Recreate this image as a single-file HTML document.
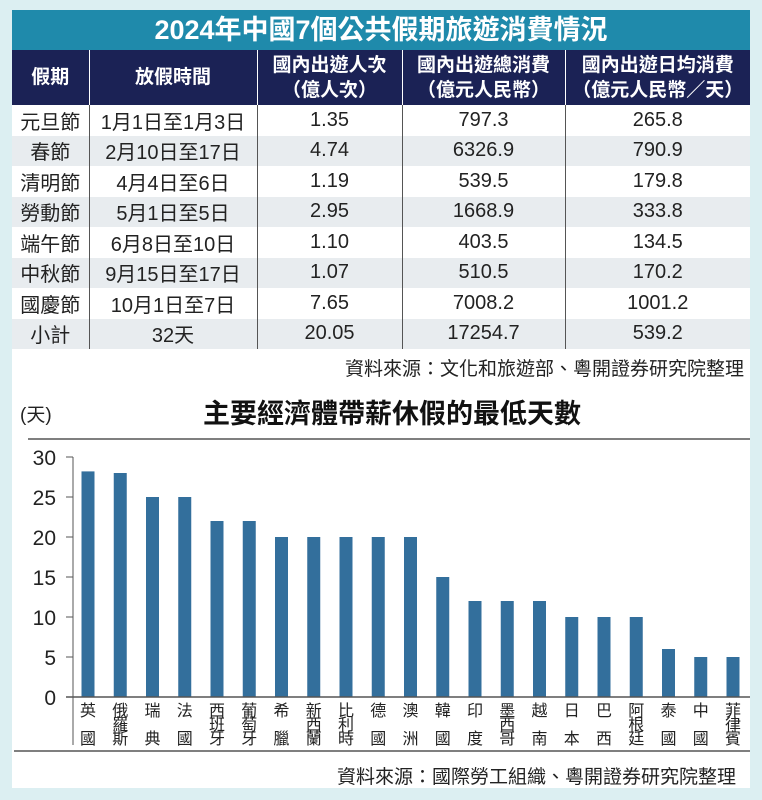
<!DOCTYPE html>
<html><head><meta charset="utf-8">
<style>
*{margin:0;padding:0;box-sizing:border-box}
body{width:762px;height:800px;background:#dceff2;font-family:"Liberation Sans","Noto Sans CJK TC",sans-serif;position:relative;overflow:hidden}
#panel{position:absolute;left:12px;top:10px;width:738px;height:778px;background:#fff}
#ttl{position:absolute;left:12px;top:10px;width:738px;height:40px;background:#1f8aab;color:#fff;font-size:27px;font-weight:bold;text-align:center;line-height:40px}
table{position:absolute;left:12px;top:50px;width:738px;border-collapse:collapse;font-size:20px;color:#222}
th{background:#1b2255;color:#fff;font-weight:bold;height:55px;font-size:19px;line-height:25px;border-left:1px solid #fff}
td{height:30.5px;text-align:center;border-left:1.5px solid #555}
tr.g td{background:#e8ecef}
th:first-child,td:first-child{border-left:none}
.src{position:absolute;right:18px;font-size:19px;color:#222}
</style></head><body>
<div id="panel"></div>
<div id="ttl">2024年中國7個公共假期旅遊消費情況</div>
<table>
<colgroup><col style="width:77px"><col style="width:168px"><col style="width:145px"><col style="width:163px"><col></colgroup>
<tr><th>假期</th><th>放假時間</th><th>國內出遊人次<br>（億人次）</th><th>國內出遊總消費<br>（億元人民幣）</th><th>國內出遊日均消費<br>（億元人民幣／天）</th></tr>
<tr><td>元旦節</td><td>1月1日至1月3日</td><td>1.35</td><td>797.3</td><td>265.8</td></tr>
<tr class="g"><td>春節</td><td>2月10日至17日</td><td>4.74</td><td>6326.9</td><td>790.9</td></tr>
<tr><td>清明節</td><td>4月4日至6日</td><td>1.19</td><td>539.5</td><td>179.8</td></tr>
<tr class="g"><td>勞動節</td><td>5月1日至5日</td><td>2.95</td><td>1668.9</td><td>333.8</td></tr>
<tr><td>端午節</td><td>6月8日至10日</td><td>1.10</td><td>403.5</td><td>134.5</td></tr>
<tr class="g"><td>中秋節</td><td>9月15日至17日</td><td>1.07</td><td>510.5</td><td>170.2</td></tr>
<tr><td>國慶節</td><td>10月1日至7日</td><td>7.65</td><td>7008.2</td><td>1001.2</td></tr>
<tr class="g"><td>小計</td><td>32天</td><td>20.05</td><td>17254.7</td><td>539.2</td></tr>
</table>
<div class="src" style="top:354px">資料來源：文化和旅遊部、粵開證券研究院整理</div>
<svg id="chart" width="762" height="800" style="position:absolute;left:0;top:0"></svg>
<div class="src" style="top:762px;right:26px">資料來源：國際勞工組織、粵開證券研究院整理</div>
<script>
const categories=["英國","俄羅斯","瑞典","法國","西班牙","葡萄牙","希臘","新西蘭","比利時","德國","澳洲","韓國","印度","墨西哥","越南","日本","巴西","阿根廷","泰國","中國","菲律賓"];
const values=[28.2,28,25,25,22,22,20,20,20,20,20,15,12,12,12,10,10,10,6,5,5];
const ticks=[0,5,10,15,20,25,30];
const NS="http://www.w3.org/2000/svg";
const svg=document.getElementById('chart');
const x0=88,dx=32.25,y0=697,ppu=8,bw=13;
const yS=v=>y0-v*ppu, xS=i=>x0+i*dx;
function mk(t,a){const e=document.createElementNS(NS,t);for(const k in a)e.setAttribute(k,a[k]);svg.appendChild(e);return e;}
let e;
e=mk('text',{x:20,y:421,'font-size':19,fill:'#222'});e.textContent='(天)';


e=mk('text',{x:392,y:423,'font-size':27,'text-anchor':'middle',fill:'#111','font-weight':'bold'});e.textContent='主要經濟體帶薪休假的最低天數';


e=mk('line',{x1:28,y1:439,x2:750,y2:439,stroke:'#555','stroke-width':1.5});


e=mk('line',{x1:73,y1:457,x2:73,y2:745,stroke:'#555','stroke-width':1});


ticks.forEach(t=>{
 e=mk('line',{x1:66,y1:yS(t),x2:73,y2:yS(t),stroke:'#555'});
 
 
 e=mk('text',{x:56,y:yS(t)+8,'font-size':21,'text-anchor':'end',fill:'#222'});e.textContent=t;
 
 
});
values.forEach((v,i)=>{
 e=mk('rect',{x:xS(i)-bw/2,y:yS(v),width:bw,height:v*ppu,fill:'#336f9c'});
 
 
 const c=[...categories[i]];
 const ys=c.length===3?[716,730,744]:[716,744];
 c.forEach((ch,k)=>{
  e=mk('text',{x:xS(i),y:ys[k],'font-size':16,'text-anchor':'middle',fill:'#222'});e.textContent=ch;
  
  
 });
});
e=mk('line',{x1:66,y1:y0,x2:750,y2:y0,stroke:'#555','stroke-width':1.5});


e=mk('line',{x1:14,y1:751,x2:750,y2:751,stroke:'#555','stroke-width':1.5});


</script>
</body></html>
